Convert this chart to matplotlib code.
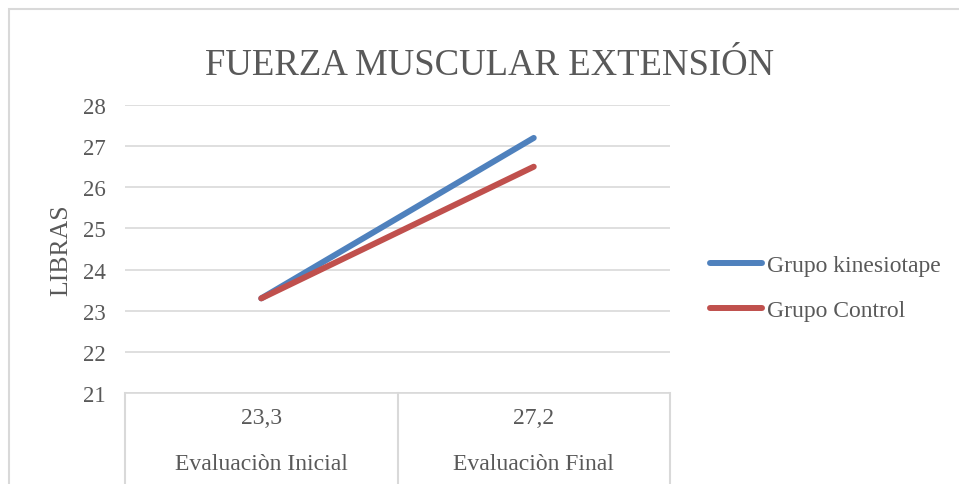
import matplotlib
matplotlib.use("Agg")
import matplotlib.pyplot as plt
from matplotlib.patches import Rectangle
import matplotlib.transforms as mtransforms

categories = ["Evaluaciòn Inicial", "Evaluaciòn Final"]
table_values = ["23,3", "27,2"]
series_names = ["Grupo kinesiotape", "Grupo Control"]
kinesiotape = [23.3, 27.2]
control = [23.3, 26.5]
y_ticks = [21, 22, 23, 24, 25, 26, 27, 28]

plt.rcParams['font.family'] = ['Liberation Serif', 'DejaVu Serif']
text_color = '#595959'
grid_color = '#D9D9D9'

W, H = 959, 485
fig = plt.figure(figsize=(W / 100, H / 100), dpi=100)

# outer chart frame (right and bottom edges lie outside the picture)
fig.patches.append(Rectangle((9 / W, -0.2), 1.2, 1.2 - 10 / H, transform=fig.transFigure,
                             fill=False, edgecolor=grid_color, linewidth=1.5))

left, right, top, bottom = 125, 670, 106, 394
ax = fig.add_axes([left / W, 1 - bottom / H, (right - left) / W, (bottom - top) / H])

x = list(range(len(categories)))
ax.plot(x, kinesiotape, color='#4F81BD', linewidth=4.3, solid_capstyle='round',
        label=series_names[0], zorder=3)
ax.plot(x, control, color='#C0504D', linewidth=4.3, solid_capstyle='round',
        label=series_names[1], zorder=3)

ax.set_xlim(-0.5, len(categories) - 0.5)
ax.set_ylim(min(y_ticks), max(y_ticks))
ax.set_yticks(y_ticks)
ax.set_yticklabels([str(v) for v in y_ticks])
ax.tick_params(axis='y', length=0, pad=14, labelsize=16.5, labelcolor=text_color)
ax.set_xticks([])
ax.grid(axis='y', color=grid_color, linewidth=1.2)
for s in ['top', 'right', 'left']:
    ax.spines[s].set_visible(False)
ax.spines['bottom'].set_color(grid_color)
ax.spines['bottom'].set_linewidth(1.2)

ax.set_ylabel("LIBRAS", fontsize=18.5, color=text_color)
ax.yaxis.set_label_coords((72 - left) / (right - left), 0.5)

# table-style category axis below the plot
trans = mtransforms.blended_transform_factory(ax.transData, fig.transFigure)
y_axis_bottom = 1 - bottom / H
for xb in [i - 0.5 for i in range(len(categories) + 1)]:
    ax.plot([xb, xb], [y_axis_bottom, -0.1], transform=trans, color=grid_color,
            linewidth=1.5, clip_on=False)
for i, (cat, val) in enumerate(zip(categories, table_values)):
    ax.text(i, 1 - 419 / H, val, transform=trans, ha='center', va='center',
            fontsize=17, color=text_color)
    ax.text(i, 1 - 465 / H, cat, transform=trans, ha='center', va='center',
            fontsize=17, color=text_color)

fig.text(490 / W, 1 - 75 / H, "FUERZA MUSCULAR EXTENSIÓN",
         ha='center', va='baseline', fontsize=26.5, color=text_color)

leg = fig.legend(loc='center left', bbox_to_anchor=(710 / W, 1 - 289 / H),
                 frameon=False, fontsize=17, labelcolor=text_color,
                 handlelength=2.2, handletextpad=0.2, labelspacing=1.0,
                 borderpad=0, borderaxespad=0)

fig.savefig("out.png", dpi=100)
